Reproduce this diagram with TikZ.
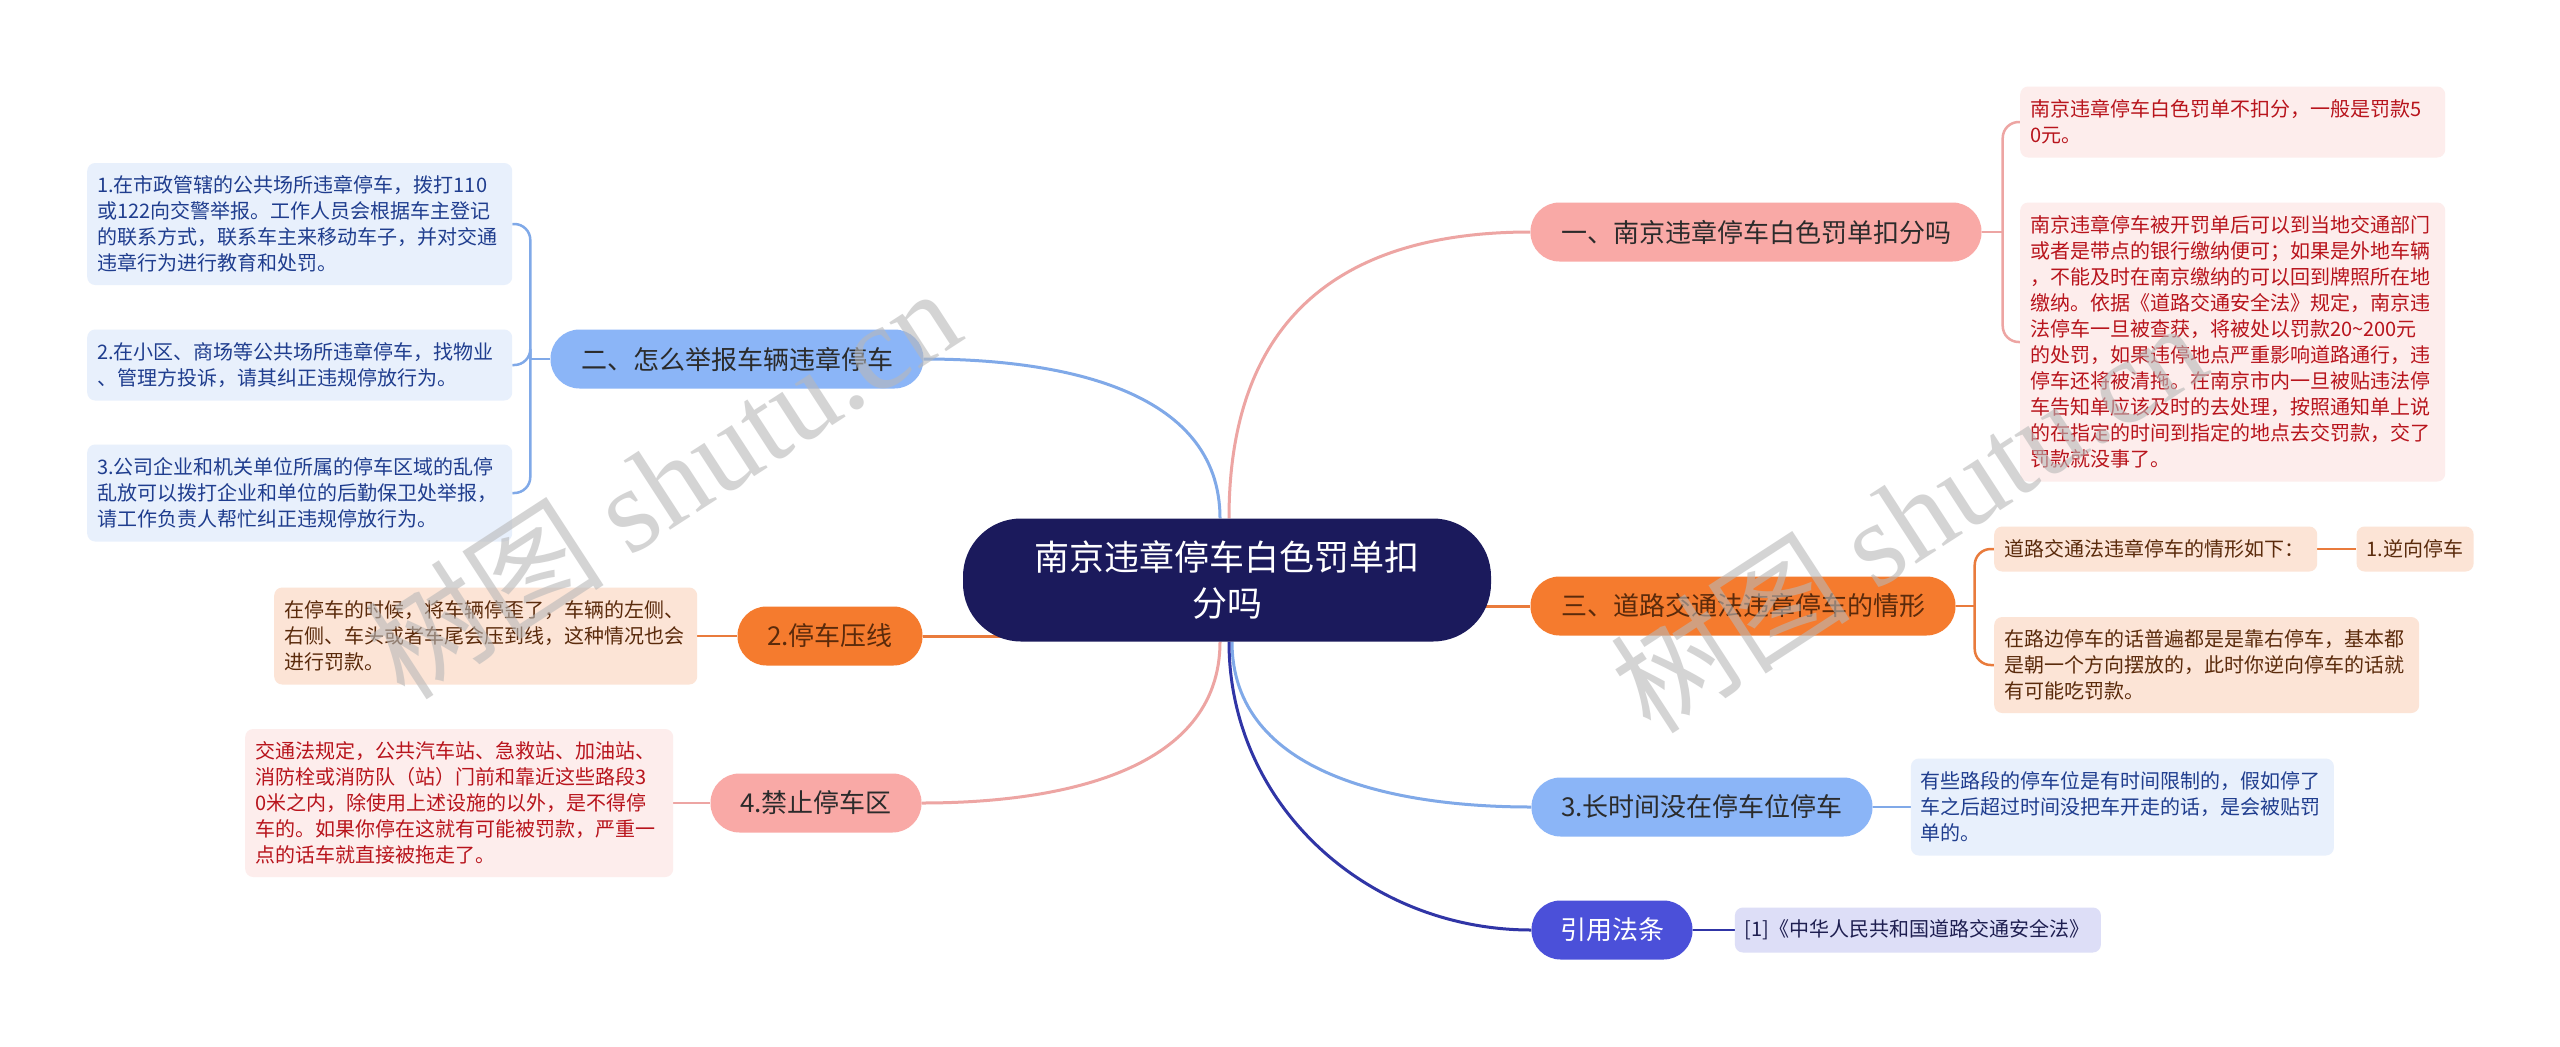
\documentclass[tikz,border=0pt]{standalone}
\usepackage{fontspec}
\setmainfont{Noto Sans CJK SC}
\newfontfamily\wmfont{Liberation Serif}
\usetikzlibrary{positioning, backgrounds}
\definecolor{CoreNavy}{HTML}{1B1A5C}
\definecolor{PinkMain}{HTML}{F9A9A6}
\definecolor{PinkLine}{HTML}{EDA5A3}
\definecolor{PinkLeaf}{HTML}{FDEDEC}
\definecolor{PinkText}{HTML}{B8141C}
\definecolor{BlueMain}{HTML}{8BB5F7}
\definecolor{BlueLine}{HTML}{80A9E8}
\definecolor{BlueLeaf}{HTML}{E8F0FC}
\definecolor{BlueText}{HTML}{1F3D8E}
\definecolor{OrangeMain}{HTML}{F57B2E}
\definecolor{OrangeLine}{HTML}{E97B3C}
\definecolor{OrangeLeaf}{HTML}{FCE4D6}
\definecolor{OrangeText}{HTML}{5A2A0B}
\definecolor{IndigoMain}{HTML}{4B50D9}
\definecolor{IndigoLine}{HTML}{3035A6}
\definecolor{IndigoLeaf}{HTML}{DDDEF7}
\definecolor{IndigoText}{HTML}{1E1E50}
\definecolor{DarkText}{HTML}{2B2B2B}
\tikzset{
  core/.style={rectangle, rounded corners=58pt, fill=CoreNavy, text=white,
    align=center, minimum width=528pt, minimum height=123pt,
    font=\fontsize{35}{46}\selectfont},
  topic/.style={rectangle, rounded corners=29pt, minimum height=59pt,
    inner xsep=0pt, text=DarkText, font=\fontsize{26}{30}\selectfont},
  leaf/.style={rectangle, rounded corners=8pt, align=left, anchor=west,
    inner xsep=10pt, inner ysep=2pt, font=\fontsize{20}{26}\selectfont},
  link/.style={line width=3pt},
  twig/.style={line width=2.5pt, rounded corners=16pt},
  stamp/.style={rotate=33, text=black!28, opacity=0.6,
    font=\fontsize{120}{120}\selectfont},
}

\begin{document}
\begin{tikzpicture}[x=1pt, y=1pt]
  \useasboundingbox (0,0) rectangle (2560,-1047);
  % centre
  \node[core] (hub) at (1227,-580) {南京违章停车白色罚单扣\\分吗};
  % right side topics
  \node[topic, fill=PinkMain, minimum width=451pt] (fine) at (1756,-232)
    {一、南京违章停车白色罚单扣分吗};
  \node[topic, fill=OrangeMain, text=OrangeText, minimum width=425pt] (signs)
    at (1743,-606) {三、道路交通法违章停车的情形};
  \node[topic, fill=BlueMain, minimum width=341pt] (overtime) at (1702,-807)
    {3.长时间没在停车位停车};
  \node[topic, fill=IndigoMain, text=white, minimum width=161pt] (lawref)
    at (1612,-930) {引用法条};
  % left side topics
  \node[topic, fill=BlueMain, minimum width=373pt] (report) at (737,-359)
    {二、怎么举报车辆违章停车};
  \node[topic, fill=OrangeMain, text=OrangeText, minimum width=185pt] (press)
    at (830,-636) {2.停车压线};
  \node[topic, fill=PinkMain, minimum width=211pt] (nozone) at (816,-803)
    {4.禁止停车区};

  % leaves of fine
  \node[leaf, fill=PinkLeaf, text=PinkText, text width=405pt,
    minimum height=71pt] (fine1) at (2020,-122)
    {南京违章停车白色罚单不扣分，一般是罚款5\\0元。};
  \node[leaf, fill=PinkLeaf, text=PinkText, text width=405pt,
    minimum height=279pt] (fine2) at (2020,-342)
    {南京违章停车被开罚单后可以到当地交通部门\\
     或者是带点的银行缴纳便可；如果是外地车辆\\
     ，不能及时在南京缴纳的可以回到牌照所在地\\
     缴纳。依据《道路交通安全法》规定，南京违\\
     法停车一旦被查获，将被处以罚款20\textasciitilde 200元\\
     的处罚，如果违停地点严重影响道路通行，违\\
     停车还将被清拖。在南京市内一旦被贴违法停\\
     车告知单应该及时的去处理，按照通知单上说\\
     的在指定的时间到指定的地点去交罚款，交了\\
     罚款就没事了。};
  % leaves of signs
  \node[leaf, fill=OrangeLeaf, text=OrangeText, text width=303pt,
    minimum height=45pt] (sign1) at (1994,-549)
    {道路交通法违章停车的情形如下：};
  \node[leaf, fill=OrangeLeaf, text=OrangeText, text width=97pt,
    minimum height=45pt, right=39pt of sign1] (sign1a) {1.逆向停车};
  \node[leaf, fill=OrangeLeaf, text=OrangeText, text width=405pt,
    minimum height=96pt] (sign2) at (1994,-665)
    {在路边停车的话普遍都是是靠右停车，基本都\\
     是朝一个方向摆放的，此时你逆向停车的话就\\
     有可能吃罚款。};
  % leaf of overtime
  \node[leaf, fill=BlueLeaf, text=BlueText, text width=403pt,
    minimum height=97pt, right=38pt of overtime] (overtime1)
    {有些路段的停车位是有时间限制的，假如停了\\
     车之后超过时间没把车开走的话，是会被贴罚\\
     单的。};
  % leaf of lawref
  \node[leaf, fill=IndigoLeaf, text=IndigoText, text width=346pt,
    minimum height=45pt, right=42pt of lawref] (lawref1)
    {[1]《中华人民共和国道路交通安全法》};

  % leaves of report
  \node[leaf, fill=BlueLeaf, text=BlueText, text width=405pt,
    minimum height=122pt] (report1) at (87,-224)
    {1.在市政管辖的公共场所违章停车，拨打110\\
     或122向交警举报。工作人员会根据车主登记\\
     的联系方式，联系车主来移动车子，并对交通\\
     违章行为进行教育和处罚。};
  \node[leaf, fill=BlueLeaf, text=BlueText, text width=405pt,
    minimum height=71pt] (report2) at (87,-365)
    {2.在小区、商场等公共场所违章停车，找物业\\
     、管理方投诉，请其纠正违规停放行为。};
  \node[leaf, fill=BlueLeaf, text=BlueText, text width=405pt,
    minimum height=97pt] (report3) at (87,-493)
    {3.公司企业和机关单位所属的停车区域的乱停\\
     乱放可以拨打企业和单位的后勤保卫处举报，\\
     请工作负责人帮忙纠正违规停放行为。};
  % leaf of press
  \node[leaf, fill=OrangeLeaf, text=OrangeText, text width=403pt,
    minimum height=97pt] (press1) at (274,-636)
    {在停车的时候，将车辆停歪了，车辆的左侧、\\
     右侧、车头或者车尾会压到线，这种情况也会\\
     进行罚款。};
  % leaf of nozone
  \node[leaf, fill=PinkLeaf, text=PinkText, text width=408pt,
    minimum height=148pt] (nozone1) at (245,-803)
    {交通法规定，公共汽车站、急救站、加油站、\\
     消防栓或消防队（站）门前和靠近这些路段3\\
     0米之内，除使用上述设施的以外，是不得停\\
     车的。如果你停在这就有可能被罚款，严重一\\
     点的话车就直接被拖走了。};

  \begin{scope}[on background layer]
    \fill[white] (0,0) rectangle (2560,-1047);
    % centre to topics
    \draw[link, PinkLine] ([xshift=2pt]hub.north)
      to[out=90, in=180, looseness=1.2] (fine.west);
    \draw[link, BlueLine] ([xshift=-7pt]hub.north)
      to[out=90, in=0] (report.east);
    \draw[link, OrangeLine] (press.east) -- (press.east -| hub.center);
    \draw[link, OrangeLine] (signs.west) -- (signs.west -| hub.center);
    \draw[link, BlueLine] ([xshift=5pt]hub.south)
      to[out=-90, in=180] (overtime.west);
    \draw[link, IndigoLine] ([xshift=2pt]hub.south)
      to[out=-90, in=180] (lawref.west);
    \draw[link, PinkLine] ([xshift=-7pt]hub.south)
      to[out=-90, in=0] (nozone.east);
    % topics to leaves
    \draw[twig, PinkLine] (fine.east) -- ++(21,0) coordinate (fineK);
    \draw[twig, PinkLine] (fineK) |- (fine1.west);
    \draw[twig, PinkLine] (fineK) |- (fine2.west);
    \draw[twig, OrangeLine] (signs.east) -- ++(19,0) coordinate (signsK);
    \draw[twig, OrangeLine] (signsK) |- (sign1.west);
    \draw[twig, OrangeLine] (signsK) |- (sign2.west);
    \draw[twig, OrangeLine] (sign1.east) -- (sign1a.west);
    \draw[twig, BlueLine] (overtime.east) -- (overtime1.west);
    \draw[twig, IndigoLine] (lawref.east) -- (lawref1.west);
    \draw[twig, BlueLine] (report.west) -- ++(-20,0) coordinate (reportK);
    \draw[twig, BlueLine] (reportK) |- (report1.east);
    \draw[twig, BlueLine] (reportK) |- (report2.east);
    \draw[twig, BlueLine] (reportK) |- (report3.east);
    \draw[twig, OrangeLine] (press.west) -- (press1.east);
    \draw[twig, PinkLine] (nozone.west) -- (nozone1.east);
  \end{scope}

  % watermarks
  \node[stamp] (markL) at (662,-482) {树图 {\wmfont shutu.cn}};
  \node[stamp] (markR) at (1908,-516) {树图 {\wmfont shutu.cn}};
\end{tikzpicture}
\end{document}
